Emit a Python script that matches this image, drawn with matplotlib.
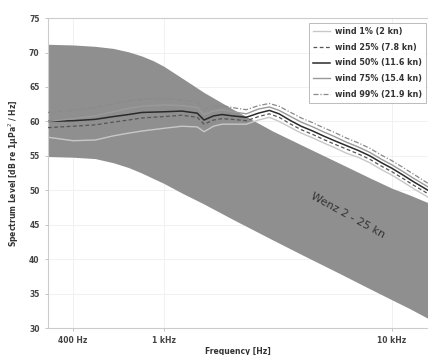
import numpy as np
import matplotlib
matplotlib.use("Agg")
import matplotlib.pyplot as plt
from matplotlib.ticker import FixedLocator, NullLocator

# --- data ---
freq_hz = [310, 400, 500, 600, 700, 800, 1000, 1200, 1400, 1500, 1650, 1800, 2000,
           2300, 2600, 2900, 3200, 3600, 4000, 4500, 5000, 5600, 6300, 7100, 8000,
           9000, 10000, 11200, 12500, 14400]

wind_50 = [60.0, 60.1, 60.3, 60.7, 61.0, 61.3, 61.4, 61.5, 61.2, 60.2, 60.8, 61.0, 60.8,
           60.6, 61.2, 61.6, 61.1, 60.1, 59.3, 58.6, 57.9, 57.2, 56.5, 55.8, 55.0,
           54.0, 53.2, 52.2, 51.2, 50.0]
wind_1 = [57.7, 57.2, 57.3, 57.9, 58.3, 58.6, 59.0, 59.3, 59.2, 58.5, 59.3, 59.6, 59.6,
          59.6, 60.2, 60.6, 60.0, 59.1, 58.3, 57.6, 56.9, 56.2, 55.4, 54.8, 54.0,
          53.0, 52.2, 51.2, 50.2, 49.0]
wind_25 = [59.1, 59.3, 59.5, 59.9, 60.2, 60.5, 60.7, 60.9, 60.6, 59.6, 60.2, 60.4, 60.3,
           60.1, 60.7, 61.1, 60.6, 59.6, 58.8, 58.1, 57.4, 56.7, 56.0, 55.3, 54.5,
           53.5, 52.7, 51.7, 50.7, 49.5]
wind_75 = [60.0, 60.4, 60.8, 61.4, 61.9, 62.2, 62.4, 62.3, 62.0, 61.0, 61.5, 61.7, 61.4,
           61.1, 61.8, 62.1, 61.6, 60.7, 59.9, 59.2, 58.5, 57.8, 57.0, 56.3, 55.5,
           54.5, 53.7, 52.7, 51.7, 50.5]
wind_99 = [61.3, 61.6, 62.0, 62.6, 63.0, 63.2, 63.3, 63.1, 62.8, 61.8, 62.2, 62.3, 62.0,
           61.7, 62.3, 62.6, 62.2, 61.3, 60.5, 59.8, 59.1, 58.4, 57.6, 56.9, 56.1,
           55.1, 54.3, 53.3, 52.3, 51.0]

band_freq = [310, 400, 500, 600, 700, 800, 900, 1000, 1200, 1500, 2000, 3000, 4000,
             6000, 8000, 10000, 12000, 14400]
band_upper = [71.2, 71.1, 70.9, 70.6, 70.1, 69.5, 68.8, 68.0, 66.3, 64.2, 61.8, 58.6,
              56.6, 53.8, 51.8, 50.3, 49.3, 48.2]
band_lower = [54.9, 54.8, 54.6, 54.0, 53.3, 52.5, 51.7, 51.0, 49.6, 48.0, 45.8, 42.8,
              40.7, 37.8, 35.7, 34.1, 32.8, 31.4]

series_labels = ["wind 1% (2 kn)", "wind 25% (7.8 kn)", "wind 50% (11.6 kn)",
                 "wind 75% (15.4 kn)", "wind 99% (21.9 kn)"]
xtick_vals = [400, 1000, 10000]
xtick_labels = ["400 Hz", "1 kHz", "10 kHz"]
ytick_vals = [30, 35, 40, 45, 50, 55, 60, 65, 70, 75]

# --- figure ---
fig = plt.figure(figsize=(4.28, 3.55), dpi=100)
ax = fig.add_axes([0.112, 0.076, 0.888, 0.873])

ax.fill_between(band_freq, band_lower, band_upper, color="#8f8f8f", lw=0, zorder=1)

styles = [
    dict(color="#c8c8c8", ls="-", lw=1.0),
    dict(color="#555555", ls=(0, (3, 2)), lw=0.9),
    dict(color="#2a2a2a", ls="-", lw=1.1),
    dict(color="#9a9a9a", ls="-", lw=1.0),
    dict(color="#8a8a8a", ls=(0, (4, 1.5, 1, 1.5)), lw=0.9),
]
for vals, lab, st in zip([wind_1, wind_25, wind_50, wind_75, wind_99], series_labels, styles):
    ax.plot(freq_hz, vals, label=lab, zorder=3, **st)

ax.set_xscale("log")
ax.set_xlim(310, 14400)
ax.set_ylim(30, 75)
ax.xaxis.set_major_locator(FixedLocator(xtick_vals))
ax.xaxis.set_minor_locator(NullLocator())
ax.set_xticks(xtick_vals)
ax.set_xticklabels(xtick_labels)
ax.set_yticks(ytick_vals)

for lbl in ax.get_xticklabels() + ax.get_yticklabels():
    lbl.set_fontweight("bold")
    lbl.set_fontsize(5.5)
    lbl.set_color("#444444")
ax.tick_params(axis="both", length=2, width=0.6, color="#bbbbbb", pad=4)

ax.grid(True, color="#efefef", lw=0.6, zorder=0)
ax.set_axisbelow(True)
for side in ["left", "bottom", "top"]:
    ax.spines[side].set_color("#cccccc")
    ax.spines[side].set_linewidth(0.8)
ax.spines["right"].set_visible(False)

ax.set_xlabel("Frequency [Hz]", fontsize=5.5, fontweight="bold", color="#333333")
ax.xaxis.set_label_coords(0.5, -0.062)
ax.set_ylabel("Spectrum Level [dB re 1\u03bcPa$^2$ / Hz]", fontsize=5.5, fontweight="bold",
              color="#333333", labelpad=6)

ax.text(6400, 46.4, "Wenz 2 - 25 kn", rotation=-29, fontsize=8, color="#333333",
        ha="center", va="center", zorder=4)

leg = ax.legend(loc="upper right", bbox_to_anchor=(1.005, 0.997),
                prop=dict(weight="bold", size=5.8), frameon=True, fancybox=False,
                edgecolor="#aaaaaa", handlelength=2.2, labelspacing=0.85,
                borderpad=0.45, handletextpad=0.6)
leg.get_frame().set_linewidth(0.7)
for t in leg.get_texts():
    t.set_color("#333333")

fig.savefig("out.png", dpi=100)
